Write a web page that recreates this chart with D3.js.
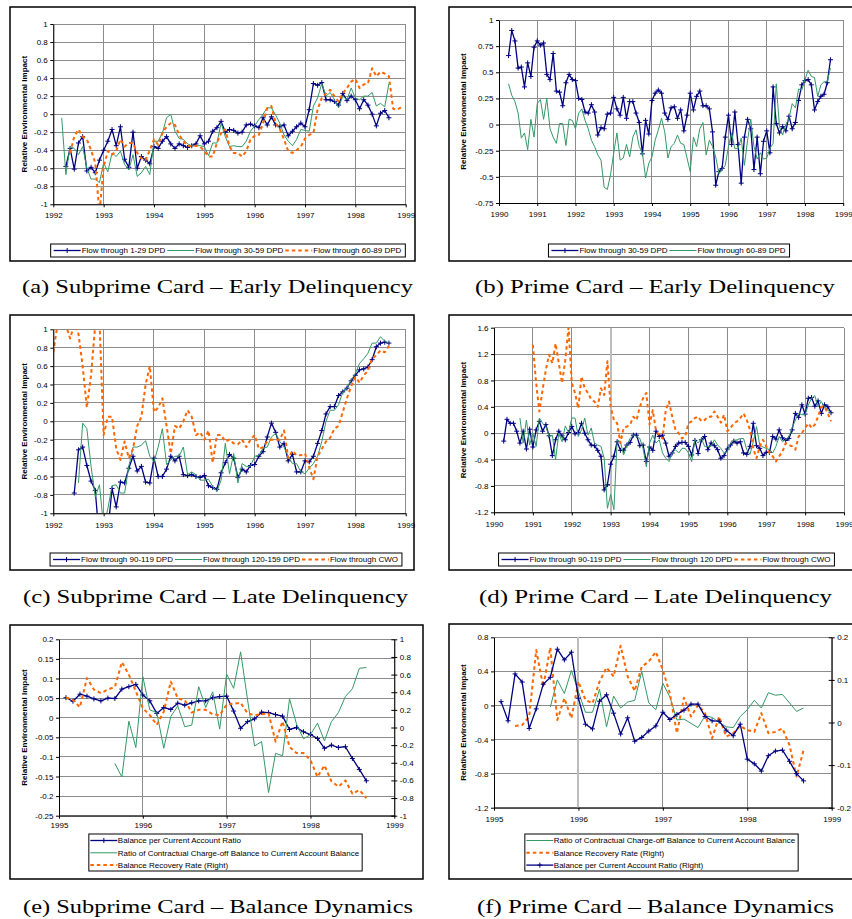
<!DOCTYPE html>
<html>
<head>
<meta charset="utf-8">
<script src="https://cdn.jsdelivr.net/npm/d3@7"></script>
<style>
  body { margin: 0; background: #fff; }
  text { font-family: "Liberation Sans", Arial, sans-serif; }
  text.caption { font-family: "Liberation Serif", "Times New Roman", serif; }
</style>
</head>
<body>
<svg id="fig" width="852" height="919"></svg>
<script>
// ---------- data (monthly values) ----------
// start = [year, month]
const aBlueStart = [1992, 4], aGreenStart = [1992, 3], aOrangeStart = [1992, 5];
const aBlue = [-0.58,-0.38,-0.61,-0.32,-0.25,-0.63,-0.59,-0.65,-0.51,-0.40,-0.30,-0.17,-0.35,-0.14,-0.50,-0.59,-0.20,-0.60,-0.47,-0.51,
  -0.55,-0.36,-0.38,-0.30,-0.25,-0.33,-0.38,-0.33,-0.35,-0.37,-0.35,-0.33,-0.24,-0.33,-0.30,-0.19,-0.15,-0.08,-0.20,-0.17,
  -0.18,-0.21,-0.20,-0.12,-0.11,-0.13,-0.15,-0.04,-0.12,-0.03,-0.12,-0.14,-0.12,-0.24,-0.19,-0.14,-0.10,-0.14,0.05,0.34,
  0.32,0.35,0.16,0.16,0.14,0.10,0.23,0.15,0.20,0.16,0.06,0.16,0.10,0.00,-0.13,0.01,0.04,-0.04];
const aGreen = [-0.04,-0.67,-0.36,-0.38,-0.45,-0.36,-0.60,-0.72,-0.72,-0.76,-0.54,-0.64,-0.43,-0.47,-0.41,-0.56,-0.62,-0.45,-0.69,-0.65,
  -0.58,-0.67,-0.30,-0.30,-0.21,-0.04,0.00,-0.19,-0.27,-0.28,-0.33,-0.35,-0.35,-0.35,-0.36,-0.46,-0.32,-0.32,-0.10,-0.25,
  -0.36,-0.35,-0.36,-0.36,-0.30,-0.19,-0.13,-0.06,0.00,0.07,0.07,-0.01,-0.10,-0.23,-0.30,-0.35,-0.28,-0.17,-0.18,-0.19,
  0.09,0.18,0.34,0.20,0.24,0.16,0.07,0.20,0.16,0.29,0.18,0.16,0.20,0.20,0.24,0.09,0.12,0.08,0.34];
const aOrange = [-0.43,-0.25,-0.17,-0.25,-0.28,-0.40,-0.54,-1.10,-0.58,-0.41,-0.45,-0.41,-0.28,-0.36,-0.32,-0.32,-0.43,-0.49,-0.51,-0.40,
  -0.28,-0.34,-0.21,-0.14,-0.10,-0.12,-0.23,-0.30,-0.35,-0.36,-0.35,-0.36,-0.41,-0.47,-0.47,-0.32,-0.21,-0.17,-0.36,-0.43,
  -0.43,-0.47,-0.41,-0.28,-0.24,-0.23,-0.10,0.07,0.09,-0.10,-0.17,-0.28,-0.41,-0.43,-0.40,-0.36,-0.27,-0.23,-0.21,0.05,
  0.18,0.23,0.27,0.20,0.14,0.23,0.29,0.36,0.39,0.29,0.33,0.34,0.51,0.42,0.47,0.45,0.42,0.06,0.05,0.08];

const bBlueStart = [1990, 4], bGreenStart = [1990, 4];
const bBlue = [0.66,0.90,0.80,0.54,0.55,0.36,0.59,0.46,0.74,
  0.80,0.76,0.78,0.48,0.43,0.68,0.32,0.31,0.18,0.40,0.48,0.43,
  0.42,0.25,0.24,0.12,0.11,0.19,0.12,-0.10,-0.03,-0.04,0.10,0.11,
  0.26,0.15,0.09,0.26,0.06,0.22,0.22,0.11,0.02,-0.28,0.04,-0.09,
  0.23,0.30,0.33,0.30,0.11,0.05,0.16,0.17,0.06,0.14,-0.06,0.09,
  0.30,0.14,0.27,0.32,0.18,0.18,0.15,-0.07,-0.58,-0.45,-0.42,-0.12,
  0.09,-0.19,0.12,-0.19,-0.56,-0.12,0.05,-0.04,-0.43,-0.12,-0.47,-0.16,
  -0.06,-0.27,0.36,0.01,-0.08,-0.02,-0.06,0.08,-0.04,0.02,0.23,0.38,
  0.42,0.43,0.38,0.14,0.22,0.27,0.29,0.40,0.62];
const bGreen = [0.39,0.28,0.22,0.11,-0.13,-0.08,-0.24,0.05,-0.12,
  0.20,0.24,0.05,0.25,-0.04,-0.12,-0.18,0.01,0.01,-0.20,0.05,0.04,
  -0.04,0.11,0.15,0.04,-0.04,-0.15,-0.21,-0.29,-0.34,-0.60,-0.62,-0.48,
  -0.27,-0.08,-0.34,-0.32,-0.19,-0.31,-0.12,-0.05,-0.21,-0.27,-0.51,-0.37,
  -0.31,-0.15,-0.05,0.06,-0.07,-0.32,-0.21,-0.18,-0.10,-0.18,-0.19,-0.32,
  -0.45,-0.12,-0.21,-0.04,0.02,-0.29,-0.15,-0.21,-0.31,-0.47,-0.43,-0.39,
  -0.21,-0.08,-0.23,-0.23,-0.13,-0.39,-0.15,0.05,-0.21,-0.33,-0.27,-0.33,
  -0.32,-0.23,-0.18,0.39,-0.02,-0.10,0.00,0.06,0.20,0.16,0.34,0.33,
  0.43,0.52,0.46,0.45,0.27,0.38,0.41,0.41,0.54];

const cBlueStart = [1992, 6], cGreenStart = [1992, 7], cOrangeStart = [1992, 1];
const cBlue = [-0.78,-0.31,-0.28,-0.48,-0.65,-0.75,-1.3,
  -1.4,-1.2,-0.73,-0.93,-0.66,-0.67,-0.51,-0.38,-0.54,-0.49,-0.66,-0.67,
  -0.40,-0.60,-0.60,-0.52,-0.38,-0.43,-0.38,-0.58,-0.59,-0.58,-0.60,-0.61,
  -0.59,-0.70,-0.72,-0.74,-0.56,-0.45,-0.36,-0.40,-0.61,-0.52,-0.55,-0.48,
  -0.47,-0.38,-0.33,-0.17,-0.02,-0.12,-0.28,-0.24,-0.43,-0.36,-0.55,-0.55,
  -0.43,-0.44,-0.38,-0.24,-0.10,0.08,0.16,0.16,0.28,0.32,0.36,0.44,
  0.50,0.56,0.57,0.59,0.67,0.81,0.85,0.86,0.85];
const cGreen = [-0.67,-0.02,-0.08,-0.49,-0.82,-0.69,
  -1.15,-0.95,-0.70,-0.69,-0.78,-0.78,-0.49,-0.28,-0.28,-0.26,-0.21,-0.38,
  -0.44,-0.28,-0.08,-0.47,-0.42,-0.38,-0.38,-0.28,-0.58,-0.55,-0.58,-0.64,
  -0.64,-0.63,-0.71,-0.76,-0.64,-0.24,-0.57,-0.35,-0.67,-0.46,-0.49,-0.49,
  -0.38,-0.37,-0.29,-0.28,-0.17,-0.13,-0.22,-0.28,-0.38,-0.46,-0.46,-0.55,
  -0.57,-0.51,-0.46,-0.38,-0.22,0.00,0.12,0.12,0.18,0.32,0.36,0.45,
  0.52,0.63,0.68,0.74,0.85,0.85,0.92,0.87,0.85];
const cOrange = [0.75,1.05,1.1,1.05,0.9,1.05,0.95,0.6,0.15,0.5,1.05,1.1,
  -0.15,0.05,0.05,-0.3,-0.42,-0.22,-0.4,-0.3,-0.05,0.05,0.4,0.6,
  0.1,0.15,0.25,-0.05,-0.35,-0.05,-0.08,0.0,0.12,0.05,-0.15,-0.12,
  -0.2,-0.1,-0.45,-0.15,-0.15,-0.22,-0.2,-0.24,-0.25,-0.2,-0.28,-0.2,
  -0.15,-0.3,-0.28,-0.22,-0.2,-0.2,-0.2,-0.1,-0.4,-0.32,-0.37,-0.37,
  -0.35,-0.5,-0.63,-0.38,-0.3,-0.22,-0.18,-0.08,-0.05,0.1,0.25,0.38,
  0.48,0.42,0.5,0.55,0.68,0.72,0.77,0.75,0.82];

const dBlueStart = [1990, 4], dGreenStart = [1990, 9], dOrangeStart = [1991, 1];
const dBlue = [-0.12,0.21,0.15,0.15,0.03,-0.15,0.03,-0.24,0.06,
  -0.21,0.05,0.18,0.03,0.13,-0.04,-0.34,-0.10,0.03,-0.04,-0.10,0.01,
  0.10,-0.01,0.01,0.15,0.00,-0.10,-0.18,-0.19,-0.26,-0.35,-0.86,-0.78,
  -0.47,-0.35,-0.13,-0.26,-0.26,-0.18,-0.14,-0.03,-0.03,-0.19,-0.18,-0.43,
  -0.21,-0.26,0.03,-0.05,-0.03,-0.15,-0.35,-0.30,-0.20,-0.15,-0.14,-0.14,
  -0.20,-0.33,-0.11,-0.31,-0.10,-0.05,-0.25,-0.15,-0.19,-0.25,-0.38,-0.34,
  -0.24,-0.18,-0.12,-0.15,-0.13,-0.30,-0.32,-0.20,0.15,-0.19,-0.23,-0.34,
  -0.29,-0.29,-0.05,-0.09,0.05,-0.07,-0.11,-0.08,0.05,0.30,0.24,0.43,
  0.29,0.53,0.54,0.41,0.49,0.30,0.43,0.40,0.31];
const dGreen = [0.23,-0.15,0.20,-0.18,
  0.00,-0.20,0.23,0.15,0.10,-0.05,-0.03,-0.40,0.00,-0.13,0.11,0.01,
  0.23,0.23,-0.05,0.05,0.23,-0.03,0.08,-0.15,-0.18,-0.20,-0.38,-1.14,
  -0.93,-1.16,-0.10,-0.13,-0.33,-0.18,-0.08,-0.03,-0.05,-0.08,-0.23,-0.51,
  -0.15,-0.03,-0.15,-0.10,-0.30,-0.38,-0.43,-0.30,-0.25,-0.30,-0.23,-0.23,
  -0.30,-0.43,-0.10,-0.15,-0.08,-0.20,-0.20,-0.20,-0.10,-0.18,-0.23,-0.30,
  -0.28,-0.15,-0.11,-0.10,-0.08,-0.08,-0.25,-0.32,-0.13,0.10,-0.18,-0.21,
  -0.23,-0.25,-0.30,-0.20,-0.05,-0.13,-0.10,-0.05,0.08,0.20,0.30,0.28,
  0.28,0.43,0.53,0.57,0.40,0.48,0.40,0.35,0.30];
const dOrange = [1.34,0.76,0.33,0.66,0.96,1.19,1.06,1.36,1.06,0.76,1.11,1.60,
  0.76,0.61,0.38,0.86,0.68,0.61,0.51,0.48,0.40,0.68,0.58,1.09,
  0.40,0.20,0.15,-0.15,0.08,0.10,0.13,0.25,0.20,0.40,0.53,0.61,
  0.13,0.35,0.03,-0.03,-0.08,0.35,0.48,0.25,0.05,0.00,-0.08,-0.05,
  0.15,0.18,0.23,0.25,0.18,0.20,0.25,0.25,0.33,0.25,0.16,0.28,
  0.03,0.08,0.15,0.18,0.23,0.30,0.20,0.05,-0.23,-0.38,-0.20,-0.10,
  -0.20,-0.30,-0.35,-0.43,-0.35,-0.28,-0.15,-0.18,-0.20,-0.25,-0.05,0.00,
  0.08,0.15,0.08,0.13,0.25,0.40,0.40,0.30,0.18];

const eBlueStart = [1995, 2], eGreenStart = [1995, 9], eOrangeStart = [1995, 2];
const eBlue = [0.051,0.042,0.060,0.055,0.048,0.043,0.050,0.049,0.073,0.079,0.085,
  0.058,0.043,0.011,0.026,0.021,0.037,0.032,0.038,0.043,0.043,0.051,0.054,
  0.055,0.017,-0.027,-0.010,-0.003,0.014,0.013,0.008,0.004,-0.030,-0.025,-0.036,
  -0.043,-0.053,-0.078,-0.070,-0.076,-0.074,-0.104,-0.132,-0.161];
const eGreen = [-0.117,-0.151,-0.009,-0.076,
  0.105,0.020,0.013,-0.078,0.003,0.030,-0.023,-0.019,0.079,0.026,0.066,-0.029,
  0.111,0.075,0.168,0.045,-0.072,-0.061,-0.191,-0.091,-0.097,0.048,-0.016,-0.054,
  -0.043,-0.014,-0.059,-0.010,0.013,0.054,0.074,0.126,0.128];
const eOrange = [0.34,0.31,0.23,0.56,0.43,0.39,0.43,0.46,0.74,0.60,0.41,
  0.22,0.14,0.03,0.18,0.52,0.33,0.31,0.17,0.20,0.20,0.15,0.14,
  0.26,0.27,0.28,0.16,0.14,0.15,0.16,-0.16,0.07,-0.22,-0.29,-0.29,
  -0.37,-0.56,-0.43,-0.61,-0.67,-0.60,-0.75,-0.71,-0.80];

const fGreenStart = [1995, 9], fOrangeStart = [1995, 4], fBlueStart = [1995, 2];
const fGreen = [-0.02,0.30,0.14,0.41,
  0.16,-0.08,-0.08,0.19,-0.25,0.11,-0.03,0.04,0.06,0.40,0.03,-0.05,
  0.26,0.10,-0.17,-0.16,-0.21,-0.26,-0.12,-0.14,-0.20,-0.25,-0.26,-0.13,
  -0.05,0.06,-0.03,0.15,0.12,0.13,0.03,-0.07,-0.03];
const fOrange = [-0.008,-0.006,0.014,0.17,0.084,0.176,0.006,0.057,0.010,
  0.096,0.053,0.045,0.096,0.129,0.108,0.18,0.108,0.074,0.131,0.143,0.166,
  0.123,0.068,-0.025,0.058,0.014,0.041,0.022,-0.037,0.014,-0.033,-0.025,-0.008,
  -0.018,-0.022,0.022,-0.025,-0.022,-0.014,-0.053,-0.127,-0.065];
const fBlue = [0.049,0.004,0.114,0.095,-0.014,0.032,0.090,0.106,0.172,0.147,0.165,
  0.057,-0.004,-0.015,0.050,0.065,0.022,-0.027,0.011,-0.044,-0.035,-0.020,-0.008,
  0.024,0.007,0.019,0.029,0.043,0.043,0.014,0.004,0.003,-0.018,-0.031,-0.004,
  -0.086,-0.097,-0.114,-0.078,-0.067,-0.065,-0.091,-0.120,-0.137];

// tick labels
const years92 = [1992, 1993, 1994, 1995, 1996, 1997, 1998, 1999];
const years90 = [1990, 1991, 1992, 1993, 1994, 1995, 1996, 1997, 1998, 1999];
const years95 = [1995, 1996, 1997, 1998, 1999];
const aYTicks = [-1, -0.8, -0.6, -0.4, -0.2, 0, 0.2, 0.4, 0.6, 0.8, 1];
const bYTicks = [-0.75, -0.5, -0.25, 0, 0.25, 0.5, 0.75, 1];
const dYTicks = [-1.2, -0.8, -0.4, 0, 0.4, 0.8, 1.2, 1.6];
const eYTicks = [-0.25, -0.2, -0.15, -0.1, -0.05, 0, 0.05, 0.1, 0.15, 0.2];
const eY2Ticks = [-1, -0.8, -0.6, -0.4, -0.2, 0, 0.2, 0.4, 0.6, 0.8, 1];
const fYTicks = [-1.2, -0.8, -0.4, 0, 0.4, 0.8];
const fY2Ticks = [-0.2, -0.1, 0, 0.1, 0.2];

// ---------- helpers ----------
function monthly(start, values) {
  return values.map((v, i) => ({ t: start[0] + (start[1] - 1 + i) / 12, v: v }));
}

const STYLES = {
  blue:   { color: '#000080', width: 1.3, dash: null, marker: true },
  green:  { color: '#339966', width: 1,   dash: null, marker: false },
  orange: { color: '#ff6600', width: 2,   dash: '3.5,3', marker: false }
};
const GRID = '#8c8c8c';
const PLUS = 'M-2.5,0H2.5M0,-2.5V2.5';
const fmt = d => String(+d.toFixed(2));

const panels = [
  { box: [10, 7, 415, 261], plot: [53.3, 24, 405.7, 204.3], years: years92, yTicks: aYTicks,
    titleX: 24, xGap: 5.3,
    series: [
      { name: 'Flow through 1-29 DPD', kind: 'blue', data: monthly(aBlueStart, aBlue) },
      { name: 'Flow through 30-59 DPD', kind: 'green', data: monthly(aGreenStart, aGreen) },
      { name: 'Flow through 60-89 DPD', kind: 'orange', data: monthly(aOrangeStart, aOrange) }
    ],
    legend: { cx: 228, y: 244, vertical: false },
    caption: { text: '(a) Subprime Card \u2013 Early Delinquency', cx: 217.5, y: 293, w: 391 } },
  { box: [449, 7, 900, 261], plot: [499, 20, 843.2, 203], years: years90, yTicks: bYTicks,
    titleX: 463, xGap: 5.8,
    series: [
      { name: 'Flow through 30-59 DPD', kind: 'blue', data: monthly(bBlueStart, bBlue) },
      { name: 'Flow through 60-89 DPD', kind: 'green', data: monthly(bGreenStart, bGreen) }
    ],
    legend: { cx: 669, y: 244, vertical: false },
    caption: { text: '(b) Prime Card \u2013 Early Delinquency', cx: 655, y: 293, w: 360 } },
  { box: [10, 315, 414, 570], plot: [53.3, 329.3, 405.7, 513.3], years: years92, yTicks: aYTicks,
    titleX: 24, xGap: 5.8,
    series: [
      { name: 'Flow through 90-119 DPD', kind: 'blue', data: monthly(cBlueStart, cBlue) },
      { name: 'Flow through 120-159 DPD', kind: 'green', data: monthly(cGreenStart, cGreen) },
      { name: 'Flow through CWO', kind: 'orange', data: monthly(cOrangeStart, cOrange) }
    ],
    legend: { cx: 226, y: 553, vertical: false },
    caption: { text: '(c) Subprime Card \u2013 Late Delinquency', cx: 215.5, y: 603, w: 385 } },
  { box: [449, 315, 900, 570], plot: [494, 327.7, 844, 512.3], years: years90, yTicks: dYTicks,
    titleX: 463, xGap: 6.3, lightYear: 1993,
    series: [
      { name: 'Flow through 90-119 DPD', kind: 'blue', data: monthly(dBlueStart, dBlue) },
      { name: 'Flow through 120 DPD', kind: 'green', data: monthly(dGreenStart, dGreen) },
      { name: 'Flow through CWO', kind: 'orange', data: monthly(dOrangeStart, dOrange) }
    ],
    legend: { cx: 666.5, y: 553, vertical: false },
    caption: { text: '(d) Prime Card \u2013 Late Delinquency', cx: 655.5, y: 603, w: 353 } },
  { box: [10, 625, 423, 879], plot: [59, 639.3, 394.3, 815.7], years: years95, yTicks: eYTicks, y2Ticks: eY2Ticks,
    titleX: 24, xGap: 3.5,
    series: [
      { name: 'Balance per Current Account Ratio', kind: 'blue', data: monthly(eBlueStart, eBlue) },
      { name: 'Ratio of Contractual Charge-off Balance to Current Account Balance', kind: 'green', data: monthly(eGreenStart, eGreen) },
      { name: 'Balance Recovery Rate (Right)', kind: 'orange', axis: 'right', data: monthly(eOrangeStart, eOrange) }
    ],
    legend: { cx: 225.5, y: 834, vertical: true },
    caption: { text: '(e) Subprime Card \u2013 Balance Dynamics', cx: 218, y: 913, w: 390 } },
  { box: [449, 624, 900, 879], plot: [494, 637.3, 831.7, 807.7], years: years95, yTicks: fYTicks, y2Ticks: fY2Ticks,
    titleX: 463, xGap: 6, lightYear: 1996,
    series: [
      { name: 'Ratio of Contractual Charge-off Balance to Current Account Balance', kind: 'green', data: monthly(fGreenStart, fGreen) },
      { name: 'Balance Recovery Rate (Right)', kind: 'orange', axis: 'right', data: monthly(fOrangeStart, fOrange) },
      { name: 'Balance per Current Account Ratio (Right)', kind: 'blue', axis: 'right', data: monthly(fBlueStart, fBlue) }
    ],
    legend: { cx: 661.5, y: 834, vertical: true },
    caption: { text: '(f) Prime Card \u2013 Balance Dynamics', cx: 655.5, y: 913, w: 357 } }
];

const svg = d3.select('#fig');
svg.append('rect').attr('width', 852).attr('height', 919).attr('fill', '#fff');

function drawSample(g, kind, x, y, len) {
  const st = STYLES[kind];
  g.append('line').attr('x1', x).attr('x2', x + len).attr('y1', y).attr('y2', y)
    .attr('stroke', st.color).attr('stroke-width', st.width).attr('stroke-dasharray', st.dash);
  if (st.marker) {
    g.append('path').attr('d', PLUS).attr('transform', `translate(${x + len / 2},${y})`)
      .attr('stroke', st.color).attr('stroke-width', 1);
  }
}

function drawLegend(g, p) {
  const lg = g.append('g');
  const box = lg.append('rect').attr('fill', '#fff').attr('stroke', '#000').attr('stroke-width', 1);
  let w, h;
  if (!p.legend.vertical) {
    h = 13;
    let x = 3;
    p.series.forEach(s => {
      drawSample(lg, s.kind, x, h / 2, 27);
      const t = lg.append('text').attr('x', x + 28).attr('y', h / 2).attr('dy', '0.35em')
        .attr('font-size', 8).text(s.name);
      x += 28 + t.node().getComputedTextLength() + 2;
    });
    w = x + 2;
  } else {
    h = 37;
    let maxW = 0;
    p.series.forEach((s, i) => {
      const yy = 6.5 + i * 12.3;
      drawSample(lg, s.kind, 1.5, yy, 27);
      const t = lg.append('text').attr('x', 29).attr('y', yy).attr('dy', '0.35em')
        .attr('font-size', 8).text(s.name);
      maxW = Math.max(maxW, t.node().getComputedTextLength());
    });
    w = 29 + maxW + 3;
  }
  box.attr('width', w).attr('height', h);
  lg.attr('transform', `translate(${p.legend.cx - w / 2},${p.legend.y})`);
}

panels.forEach((p, i) => {
  const g = svg.append('g');
  const [L, T, R, B] = p.plot;
  const x = d3.scaleLinear().domain(d3.extent(p.years)).range([L, R]);
  const y = d3.scaleLinear().domain(d3.extent(p.yTicks)).range([B, T]);
  const y2 = p.y2Ticks ? d3.scaleLinear().domain(d3.extent(p.y2Ticks)).range([B, T]) : null;

  // chart border
  g.append('rect')
    .attr('x', p.box[0]).attr('y', p.box[1])
    .attr('width', p.box[2] - p.box[0]).attr('height', p.box[3] - p.box[1])
    .attr('fill', 'none').attr('stroke', '#000').attr('stroke-width', 1.5);

  // gridlines
  g.append('g').selectAll('line').data(p.yTicks).join('line')
    .attr('x1', L).attr('x2', R).attr('y1', d => y(d)).attr('y2', d => y(d))
    .attr('stroke', GRID).attr('shape-rendering', 'crispEdges');
  g.append('g').selectAll('line').data(p.years).join('line')
    .attr('x1', d => x(d)).attr('x2', d => x(d)).attr('y1', T).attr('y2', B)
    .attr('stroke', d => d === p.lightYear ? '#bdbdbd' : GRID)
    .attr('stroke-width', d => d === p.lightYear ? 2 : 1)
    .attr('shape-rendering', 'crispEdges');

  // series
  const clipId = 'clip' + i;
  g.append('clipPath').attr('id', clipId).append('rect')
    .attr('x', L).attr('y', T).attr('width', R - L).attr('height', B - T);
  const sg = g.append('g').attr('clip-path', `url(#${clipId})`);
  p.series.forEach(s => {
    const ys = s.axis === 'right' ? y2 : y;
    const st = STYLES[s.kind];
    const line = d3.line().x(d => x(d.t)).y(d => ys(d.v));
    sg.append('path').datum(s.data).attr('d', line)
      .attr('fill', 'none').attr('stroke', st.color).attr('stroke-width', st.width)
      .attr('stroke-dasharray', st.dash).attr('stroke-linejoin', 'round');
    if (st.marker) {
      sg.append('g').selectAll('path').data(s.data).join('path')
        .attr('d', PLUS).attr('transform', d => `translate(${x(d.t)},${ys(d.v)})`)
        .attr('stroke', st.color).attr('stroke-width', 1).attr('fill', 'none');
    }
  });

  // axes
  const styleAxis = sel => {
    sel.attr('font-family', null);
    sel.selectAll('text').attr('font-size', 8).attr('fill', '#000');
    sel.selectAll('line, path').attr('stroke', '#000');
  };
  g.append('g').attr('transform', `translate(${L},0)`)
    .call(d3.axisLeft(y).tickValues(p.yTicks).tickFormat(fmt).tickSize(3).tickSizeOuter(0).tickPadding(2.5))
    .call(styleAxis);
  g.append('g').attr('transform', `translate(0,${B})`)
    .call(d3.axisBottom(x).tickValues(p.years).tickFormat(d3.format('d')).tickSize(3).tickSizeOuter(0).tickPadding(p.xGap))
    .call(styleAxis);
  if (y2) {
    const ax = g.append('g').attr('transform', `translate(${R},0)`)
      .call(d3.axisRight(y2).tickValues(p.y2Ticks).tickFormat(fmt).tickSize(3).tickSizeOuter(0).tickPadding(2.5))
      .call(styleAxis);
    ax.selectAll('.tick line').attr('x1', -3);
  }

  // y-axis title
  g.append('text')
    .attr('transform', `translate(${p.titleX},${(T + B) / 2}) rotate(-90)`)
    .attr('text-anchor', 'middle').attr('dy', '0.35em')
    .attr('font-size', 8).attr('font-weight', 'bold')
    .text('Relative Environmental Impact');

  drawLegend(g, p);

  // caption
  svg.append('text').attr('class', 'caption')
    .attr('x', p.caption.cx - p.caption.w / 2).attr('y', p.caption.y)
    .attr('font-size', 19)
    .attr('textLength', p.caption.w).attr('lengthAdjust', 'spacingAndGlyphs')
    .text(p.caption.text);
});
</script>
</body>
</html>
